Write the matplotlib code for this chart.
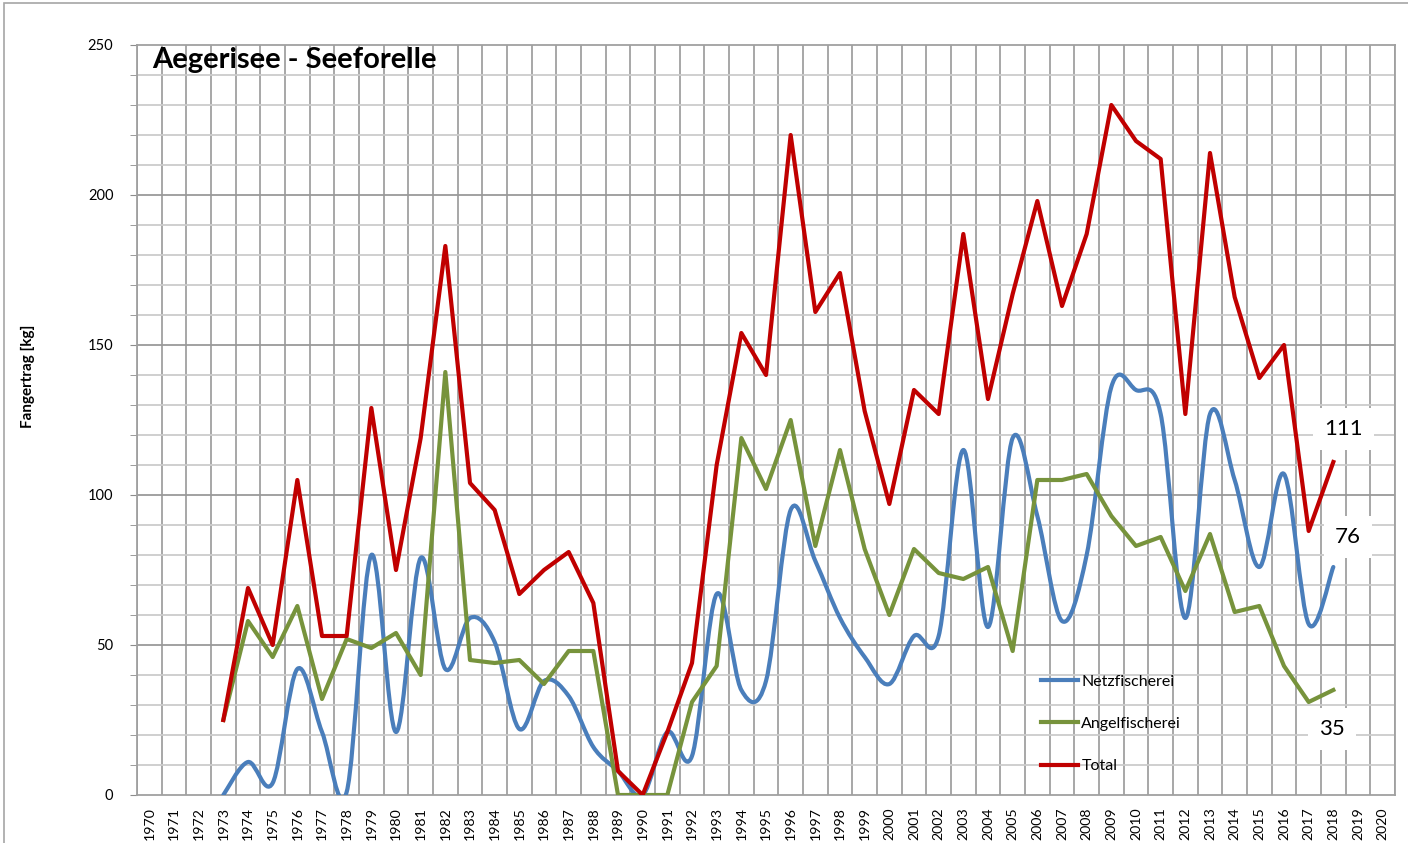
import matplotlib
matplotlib.use("Agg")
import matplotlib.pyplot as plt
from matplotlib.path import Path
from matplotlib.patches import PathPatch, Rectangle
from matplotlib.lines import Line2D
from matplotlib.ticker import MultipleLocator
import numpy as np

plt.rcParams['font.family'] = ['Lato', 'DejaVu Sans']

# categories on the x axis
years = list(range(1970, 2021))
data_years = list(range(1973, 2019))

# Fangertrag [kg]
netz = [0, 11, 4, 42, 21, 1, 80, 21, 79, 42, 59, 51, 22, 38, 33, 16, 8, 0, 21, 13,
        67, 35, 38, 95, 78, 59, 46, 37, 53, 53, 115, 56, 119, 93, 58, 80, 136, 135,
        127, 59, 127, 105, 76, 107, 57, 76]
angel = [25, 58, 46, 63, 32, 52, 49, 54, 40, 141, 45, 44, 45, 37, 48, 48, 0, 0, 0, 31,
         43, 119, 102, 125, 83, 115, 82, 60, 82, 74, 72, 76, 48, 105, 105, 107, 93, 83,
         86, 68, 87, 61, 63, 43, 31, 35]
total = [25, 69, 50, 105, 53, 53, 129, 75, 119, 183, 104, 95, 67, 75, 81, 64, 8, 0, 21, 44,
         110, 154, 140, 220, 161, 174, 128, 97, 135, 127, 187, 132, 167, 198, 163, 187, 230,
         218, 212, 127, 214, 166, 139, 150, 88, 111]

c_netz = '#4A7EBB'
c_angel = '#77933C'
c_total = '#C00000'
lw = 3.0


def smooth_path(x, y):
    # excel style smoothed line: cubic bezier through every point
    x = np.asarray(x, float)
    y = np.asarray(y, float)
    pts = np.column_stack([x, y])
    verts = [pts[0]]
    codes = [Path.MOVETO]
    n = len(pts)
    for i in range(n - 1):
        p0 = pts[i - 1] if i > 0 else pts[i]
        p1 = pts[i]
        p2 = pts[i + 1]
        p3 = pts[i + 2] if i + 2 < n else pts[i + 1]
        c1 = p1 + (p2 - p0) / 6.0
        c2 = p2 - (p3 - p1) / 6.0
        verts += [c1, c2, p2]
        codes += [Path.CURVE4] * 3
    return Path(verts, codes)


fig = plt.figure(figsize=(14.08, 8.43), dpi=100)
ax = fig.add_axes([137/1408, 1 - 795/843, (1395-137)/1408, (795-45)/843])

# outer chart border
fig.patches.append(Rectangle((4/1408, -0.05), 1.1, 1 - 3/843 + 0.05, transform=fig.transFigure,
                             fill=False, edgecolor='#a6a6a6', lw=1.2))

ax.set_xlim(1969.5, 2020.5)
ax.set_ylim(0, 250)

# grid
for b in np.arange(1969.5, 2021, 1.0):
    ax.axvline(b, color='#a0a0a0', lw=1.3, zorder=0)
for v in range(10, 250, 10):
    if v % 50 == 0:
        ax.axhline(v, color='#9a9a9a', lw=1.3, zorder=0)
    else:
        ax.axhline(v, color='#cccccc', lw=1.3, zorder=0)

for s in ax.spines.values():
    s.set_color('#a0a0a0')
    s.set_linewidth(1.3)

ax.yaxis.set_major_locator(MultipleLocator(50))
ax.yaxis.set_minor_locator(MultipleLocator(10))
ax.tick_params(axis='y', which='both', direction='out', length=5, color='#8c8c8c',
               labelsize=10.5, pad=12)
ax.set_xticks(years)
ax.set_xticklabels([str(y) for y in years], rotation=90, fontsize=10.2)
ax.tick_params(axis='x', length=0, pad=9)

# lines
ax.add_patch(PathPatch(smooth_path(data_years, netz), fill=False, edgecolor=c_netz,
                       lw=lw, capstyle='round', joinstyle='round', zorder=3))
ax.plot(data_years, angel, color=c_angel, lw=lw, zorder=3)
ax.plot(data_years, total, color=c_total, lw=lw, zorder=4)

handles = [Line2D([], [], color=c_netz, lw=lw),
           Line2D([], [], color=c_angel, lw=lw),
           Line2D([], [], color=c_total, lw=lw)]
ax.legend(handles, ['Netzfischerei', 'Angelfischerei', 'Total'], frameon=False,
          loc='lower left', bbox_to_anchor=(0.7075, 0.01), fontsize=11.5,
          handlelength=2.3, handletextpad=0.2, labelspacing=1.75)

# end labels
box = dict(boxstyle='square,pad=0.5', facecolor='white', edgecolor='none')
ax.text(2018.4, 122, str(total[-1]), fontsize=16, ha='center', va='center', bbox=box, zorder=5)
ax.text(2018.6, 86, str(netz[-1]), fontsize=16, ha='center', va='center', bbox=box, zorder=5)
ax.text(2017.95, 22, str(angel[-1]), fontsize=16, ha='center', va='center', bbox=box, zorder=5)

ax.text(0.012, 0.997, 'Aegerisee - Seeforelle', transform=ax.transAxes, fontsize=21,
        fontweight='bold', ha='left', va='top')
fig.text(28/1408, 1 - 376/843, 'Fangertrag [kg]', rotation=90, fontsize=11,
         fontweight='bold', ha='center', va='center')

fig.savefig('out.png', dpi=100)
